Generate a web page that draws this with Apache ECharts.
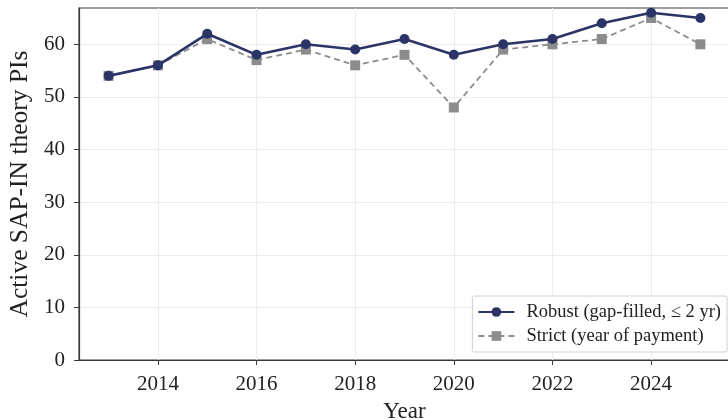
<!DOCTYPE html>
<html><head><meta charset="utf-8">
<script src="https://cdn.jsdelivr.net/npm/echarts@6/dist/echarts.min.js"></script>
<style>html,body{margin:0;padding:0;background:#fff}#c{width:728px;height:420px}</style>
</head><body><div id="c"></div>
<script>
const years = [2013,2014,2015,2016,2017,2018,2019,2020,2021,2022,2023,2024,2025];
const robust = [54,56,62,58,60,59,61,58,60,61,64,66,65];
const strict = [54,56,61,57,59,56,58,48,59,60,61,65,60];
const xTicks = [2014,2016,2018,2020,2022,2024];
const yTicks = [0,10,20,30,40,50,60];
const robustName = 'Robust (gap-filled, \u2264 2 yr)';
const strictName = 'Strict (year of payment)';
const FONT = 'Liberation Serif';
const chart = echarts.init(document.getElementById('c'));
chart.setOption({
  animation:false,
  textStyle:{fontFamily:FONT},
  grid:{left:79,right:-2,top:8,bottom:60,show:true,borderColor:'#3a3a3a',borderWidth:1.2,containLabel:false,outerBoundsMode:'none'},
  xAxis:{type:'value',min:2012.4,max:2025.6,
    name:'Year',nameLocation:'middle',nameGap:40,nameTextStyle:{fontFamily:FONT,fontSize:23,color:'#222'},
    axisLine:{show:true,lineStyle:{color:'#3a3a3a',width:1.2}},
    axisTick:{show:true,length:5,customValues:xTicks,lineStyle:{color:'#3a3a3a'}},
    axisLabel:{customValues:xTicks,formatter:v=>String(v),fontFamily:FONT,fontSize:21,color:'#222',margin:14},
    splitLine:{show:true,lineStyle:{color:'#ededed',width:1}}},
  yAxis:{type:'value',min:0,max:66.9,
    name:'Active SAP-IN theory PIs',nameLocation:'middle',nameGap:38,nameTextStyle:{fontFamily:FONT,fontSize:25.5,color:'#222'},
    axisLine:{show:true,lineStyle:{color:'#3a3a3a',width:1.2}},
    axisTick:{show:true,length:5,customValues:yTicks,lineStyle:{color:'#3a3a3a'}},
    axisLabel:{customValues:yTicks,fontFamily:FONT,fontSize:21,color:'#222',margin:14},
    splitLine:{show:true,lineStyle:{color:'#ededed',width:1}}},
  legend:{orient:'vertical',right:1,bottom:68,itemWidth:36,itemHeight:12,itemGap:4,
    padding:[6,6,6,5],borderColor:'#d0d0d0',borderWidth:1,borderRadius:2,backgroundColor:'#fff',
    textStyle:{fontFamily:FONT,fontSize:18.5,color:'#222',lineHeight:20,padding:[0,0,0,7]},
    data:[robustName,strictName]},
  series:[
    {name:robustName,type:'line',data:years.map((y,i)=>[y,robust[i]]),
     symbol:'circle',symbolSize:10,itemStyle:{color:'#2b3467'},lineStyle:{color:'#2b3467',width:2.6},z:3},
    {name:strictName,type:'line',data:years.map((y,i)=>[y,strict[i]]),
     symbol:'rect',symbolSize:10,itemStyle:{color:'#8c8c8c'},lineStyle:{color:'#8c8c8c',width:1.8,type:[6,4]},z:2}
  ]
});
</script></body></html>
